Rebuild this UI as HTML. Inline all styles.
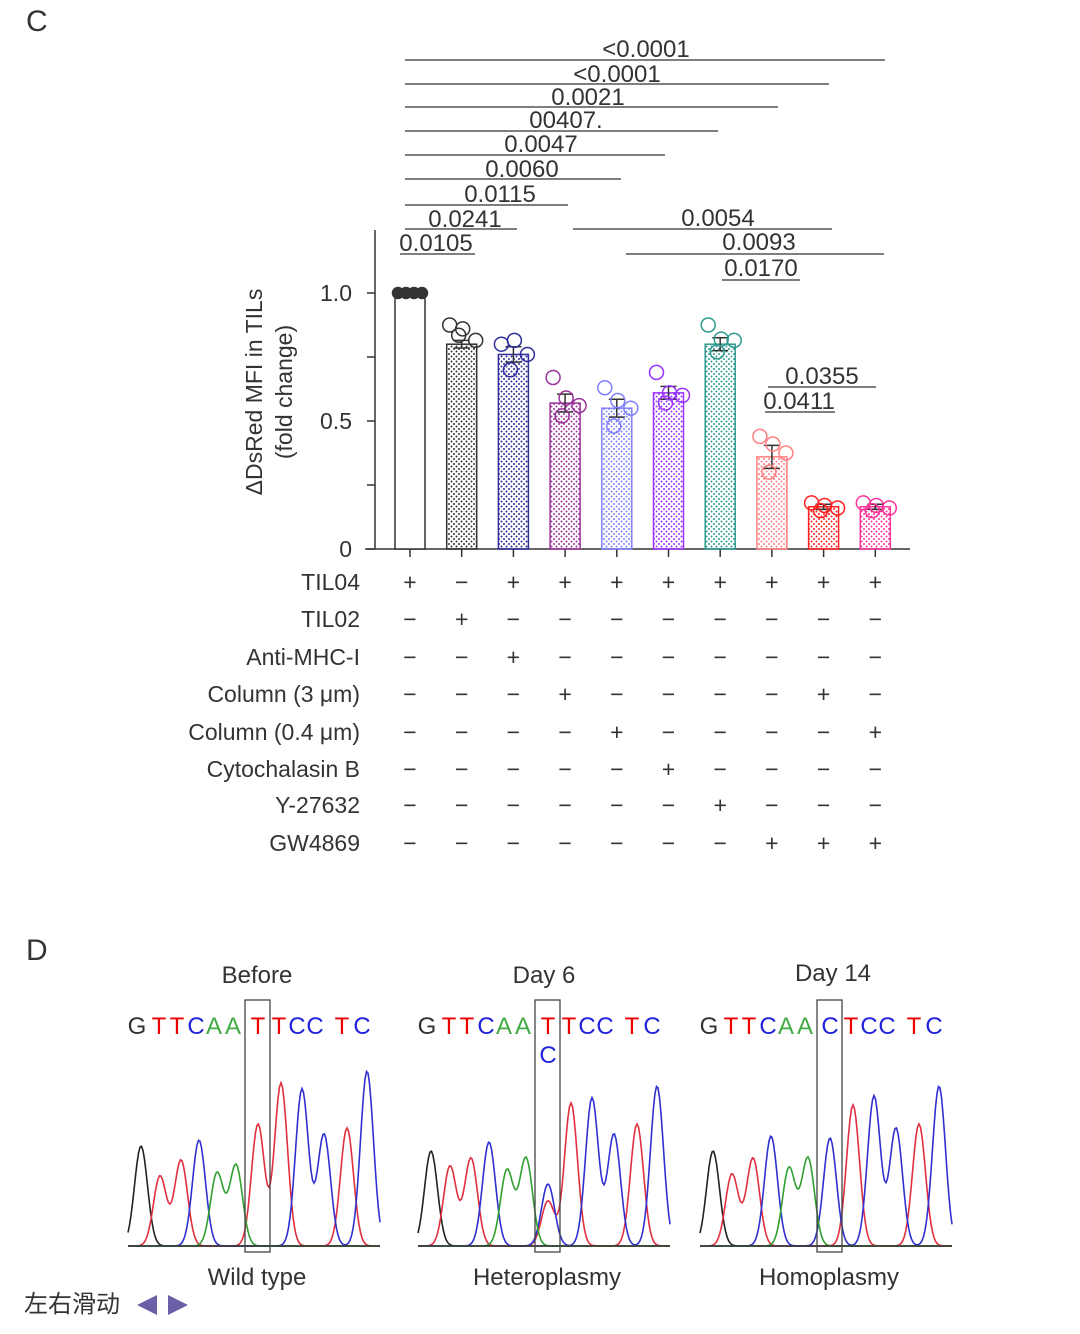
<!DOCTYPE html>
<html><head><meta charset="utf-8"><style>
body{margin:0;background:#fff;}
svg{display:block;font-family:"Liberation Sans",sans-serif;}
</style></head><body>
<svg width="1080" height="1334" viewBox="0 0 1080 1334">
<text x="26" y="31" font-size="30" fill="#333">C</text>
<text x="26" y="960" font-size="30" fill="#333">D</text>
<g id="chart"></g>
<g id="chrom"></g>
<text x="24" y="1312" font-size="24" fill="#333" font-family="Liberation Sans, Noto Sans CJK SC, sans-serif">左右滑动</text>
<polygon points="157,1295 157,1315 137,1305" fill="#6b5fa8"/>
<polygon points="168,1295 168,1315 188,1305" fill="#6b5fa8"/>
</svg>
<script>
const NS='http://www.w3.org/2000/svg';
const barValues=[1.0,0.80,0.76,0.57,0.55,0.61,0.80,0.36,0.165,0.165];
const errVals=[0,0.015,0.03,0.035,0.035,0.025,0.025,0.045,0.01,0.01];
const points=[[1,1,1,1],[0.875,0.86,0.815,0.835],[0.80,0.815,0.76,0.70],[0.67,0.59,0.56,0.52],[0.63,0.58,0.55,0.48],[0.69,0.61,0.60,0.57],[0.875,0.82,0.815,0.77],[0.44,0.41,0.375,0.30],[0.18,0.17,0.16,0.15],[0.18,0.17,0.16,0.15]];
const colors=['#333','#333','#2e2e9a','#9a3399','#8080ff','#9933ff','#2f9a90','#ff8080','#ff2020','#ff3399'];
const yTicks=[0,0.5,1.0];
const yTickLabels=['0','0.5','1.0'];
const rowLabels=['TIL04','TIL02','Anti-MHC-I','Column (3 μm)','Column (0.4 μm)','Cytochalasin B','Y-27632','GW4869'];
const rowSigns=['+−++++++++','−+−−−−−−−−','−−+−−−−−−−','−−−+−−−−+−','−−−−+−−−−+','−−−−−+−−−−','−−−−−−+−−−','−−−−−−−+++'];
const sigLabels=[
 ['<0.0001',405,885,60,646,57],['<0.0001',405,829,84,617,82],['0.0021',405,778,107,588,105],['00407.',405,718,131,566,128],
 ['0.0047',405,665,155,541,152],['0.0060',405,621,179,522,177],['0.0115',405,568,205,500,202],['0.0241',405,517,229,465,227],
 ['0.0105',400,475,254,436,251],['0.0054',573,832,229,718,226],['0.0093',626,884,254,759,250],['0.0170',722,800,280,761,276],
 ['0.0355',768,876,387,822,384],['0.0411',765,835,412,799,409]];
const g=document.getElementById('chart');
function el(t,a,p){const e=document.createElementNS(NS,t);for(const k in a)e.setAttribute(k,a[k]);(p||g).appendChild(e);return e;}
const y=v=>549-v*256;
const xc=i=>410+i*51.7;
const defs=el('defs',{});
colors.forEach((c,i)=>{const p=el('pattern',{id:'pt'+i,width:5,height:5,patternUnits:'userSpaceOnUse'},defs);
 el('circle',{cx:1.5,cy:1.5,r:1,fill:c},p);el('circle',{cx:4,cy:4,r:1,fill:c},p);});
let a=el('line',{x1:375,y1:230,x2:375,y2:549,stroke:'#333','stroke-width':1.5});

a=el('line',{x1:365,y1:549,x2:910,y2:549,stroke:'#333','stroke-width':1.5});

[0,0.25,0.5,0.75,1.0].forEach(v=>{el('line',{x1:367,y1:y(v),x2:375,y2:y(v),stroke:'#333','stroke-width':1.5});});
yTicks.forEach((v,i)=>{const t=el('text',{x:352,y:y(v)+8,'font-size':23,fill:'#333','text-anchor':'end'});t.textContent=yTickLabels[i];
 });
const yt=el('text',{transform:'translate(262,392) rotate(-90)','font-size':23,fill:'#333','text-anchor':'middle'});

const s1=el('tspan',{x:0,dy:0},yt);s1.textContent='ΔDsRed MFI in TILs';
const s2=el('tspan',{x:0,dy:30},yt);s2.textContent='(fold change)';
const offs=[-12,1,14,-3];
barValues.forEach((v,i)=>{
 const x=xc(i);
 el('line',{x1:x,y1:549,x2:x,y2:557,stroke:'#333','stroke-width':1.5});
 const r=el('rect',{x:x-15,y:y(v),width:30,height:549-y(v),fill:i==0?'#fff':'url(#pt'+i+')',stroke:colors[i],'stroke-width':1.5});
 
 if(i>0){const e=errVals[i];
  el('line',{x1:x,y1:y(v+e),x2:x,y2:y(v-e),stroke:'#333','stroke-width':1.5});
  el('line',{x1:x-8,y1:y(v+e),x2:x+8,y2:y(v+e),stroke:'#333','stroke-width':1.5});
  el('line',{x1:x-8,y1:y(v-e),x2:x+8,y2:y(v-e),stroke:'#333','stroke-width':1.5});}
 points[i].forEach((p,j)=>{const c=el('circle',{cx:i==0?x-12+j*8:x+offs[j],cy:y(p),r:i==0?5.5:7,fill:i==0?'#333':'none',stroke:colors[i],'stroke-width':1.5});
  });
});
sigLabels.forEach(s=>{el('line',{x1:s[1],y1:s[3],x2:s[2],y2:s[3],stroke:'#333','stroke-width':1.3});
 const t=el('text',{x:s[4],y:s[5],'font-size':24,fill:'#333','text-anchor':'middle'});t.textContent=s[0];
 });
const rowY=[582,619,657,694,732,769,805,843];
rowLabels.forEach((l,r)=>{const t=el('text',{x:360,y:rowY[r]+8,'font-size':23,fill:'#333','text-anchor':'end'});t.textContent=l;
 
 [...rowSigns[r]].forEach((c,i)=>{const s=el('text',{x:xc(i),y:rowY[r]+8,'font-size':23,fill:'#333','text-anchor':'middle'});s.textContent=c;
  });});

const cg=document.getElementById('chrom');
const peakCols={k:'#222',r:'#e03040',b:'#3030d0',g:'#30a030'};
const peakPos=[141,160,181,199,217,236,258,281,302,324,347,367];
const peakBase=['k','r','r','b','g','g','X','r','b','b','r','b'];
const peakH1=[100,70,86,106,73,81,122,163,157,112,118,175];
const peakH2=[95,80,88,104,76,88,45,143,148,112,122,160];
const peakH3=[95,72,88,110,78,88,108,141,150,118,122,160];
const mid2=[['r',45],['b',62]];
const seqLetters=['G','T','T','C','A','A','*','T','C','C','T','C'];
const letterX=[137,159,177,196,214,233,258,279,297,315,342,362];
const panels=[{dx:0,h:peakH1,mid:[['r',122]],mc:'T',title:'Before',sub:'Wild type',ty:974},
 {dx:290,h:peakH2,mid:mid2,mc:'T',title:'Day 6',sub:'Heteroplasmy',ty:974},
 {dx:572,h:peakH3,mid:[['b',108]],mc:'C',title:'Day 14',sub:'Homoplasmy',ty:972}];
const lc={G:'#333',T:'#e00',C:'#22d',A:'#4a4'};
function ce(t,a){const e=document.createElementNS(NS,t);for(const k in a)e.setAttribute(k,a[k]);cg.appendChild(e);return e;}
panels.forEach((P,pi)=>{
 const base=1246,x0=128+P.dx,x1=380+P.dx;
 const tt=ce('text',{x:257+P.dx+(pi==2?4:0)-(pi==1?3:0),y:P.ty+9,'font-size':24,fill:'#333','text-anchor':'middle'});tt.textContent=P.title;
 
 const st=ce('text',{x:257+P.dx,y:1285,'font-size':24,fill:'#333','text-anchor':'middle'});st.textContent=P.sub;
 
 seqLetters.forEach((L,i)=>{const l=L=='*'?P.mc:L;const t=ce('text',{x:letterX[i]+P.dx,y:1034,'font-size':24,fill:lc[l],'text-anchor':'middle'});t.textContent=l;
  });
 if(pi==1){const t=ce('text',{x:258+P.dx,y:1063,'font-size':24,fill:lc.C,'text-anchor':'middle'});t.textContent='C';
  }
 const traces=[];
 peakPos.forEach((px,i)=>{ if(peakBase[i]=='X') P.mid.forEach(m=>traces.push([m[0],px,m[1]])); else traces.push([peakBase[i],px,P.h[i]]);});
 ['k','r','b','g'].forEach(c=>{
  let d='';for(let x=x0;x<=x1;x+=1.5){let v=0;traces.forEach(t=>{if(t[0]==c){const z=(x-(t[1]+P.dx))/6.5;v+=t[2]*Math.exp(-z*z/2);}});
   d+=(d?'L':'M')+x.toFixed(1)+','+(base-v).toFixed(1);}
  const p=ce('path',{d:d,fill:'none',stroke:peakCols[c],'stroke-width':1.6});
  });
 const bl=ce('line',{x1:x0,y1:base,x2:x1,y2:base,stroke:'#333','stroke-width':1.5});
 
 const bx=ce('rect',{x:245+P.dx,y:1000,width:25,height:252,fill:'none',stroke:'#444','stroke-width':1.3});
 
});
</script>
</body></html>
